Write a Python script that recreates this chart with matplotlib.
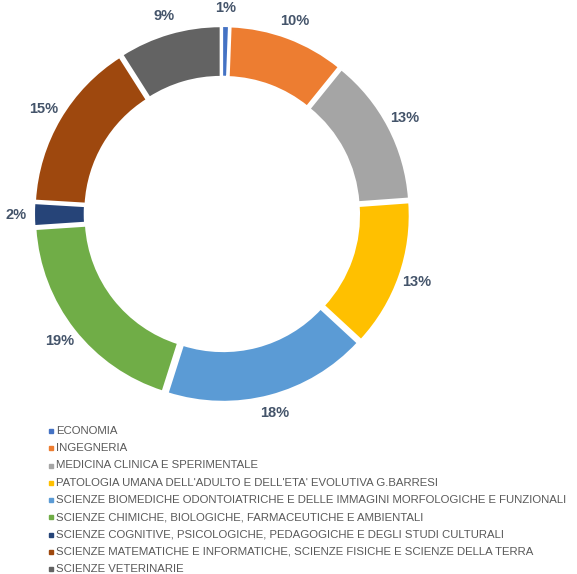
import matplotlib.pyplot as plt
from matplotlib.lines import Line2D

plt.rcParams['font.family'] = ['Liberation Sans', 'DejaVu Sans']

categories = [
    "ECONOMIA",
    "INGEGNERIA",
    "MEDICINA CLINICA E SPERIMENTALE",
    "PATOLOGIA UMANA DELL'ADULTO E DELL'ETA' EVOLUTIVA G.BARRESI",
    "SCIENZE BIOMEDICHE ODONTOIATRICHE E DELLE IMMAGINI MORFOLOGICHE E FUNZIONALI",
    "SCIENZE CHIMICHE, BIOLOGICHE, FARMACEUTICHE E AMBIENTALI",
    "SCIENZE COGNITIVE, PSICOLOGICHE, PEDAGOGICHE E DEGLI STUDI CULTURALI",
    "SCIENZE MATEMATICHE E INFORMATICHE, SCIENZE FISICHE E SCIENZE DELLA TERRA",
    "SCIENZE VETERINARIE",
]
values = [0.6, 10.2, 13, 13, 18, 19, 2, 15, 9]
pct_labels = ["1%", "10%", "13%", "13%", "18%", "19%", "2%", "15%", "9%"]
colors = ["#4472C4", "#ED7D31", "#A5A5A5", "#FFC000", "#5B9BD5",
          "#70AD47", "#264478", "#9E480E", "#636363"]

W, H = 577, 574
fig = plt.figure(figsize=(W / 100, H / 100), dpi=100)
cx, cy, r = 222, 214, 188
ax = fig.add_axes([(cx - r) / W, (H - cy - r) / H, 2 * r / W, 2 * r / H])

wedges, texts = ax.pie(values, labels=pct_labels, colors=colors, startangle=90,
                       counterclock=False, explode=[0.025] * len(values),
                       radius=0.975, labeldistance=1.1,
                       wedgeprops=dict(width=0.27, edgecolor='white', linewidth=1.5),
                       textprops=dict(color='#44546A', fontsize=10.5, fontweight='bold'))
for t in texts:
    t.set_horizontalalignment('center')
    t.set_verticalalignment('center')
ax.set_xlim(-1, 1)
ax.set_ylim(-1, 1)
ax.set_aspect('auto')

# legend rows, laid out by hand for even spacing
row0, pitch = 431, 17.25
for i, (name, c) in enumerate(zip(categories, colors)):
    y = 1 - (row0 + i * pitch) / H
    fig.add_artist(Line2D([51 / W], [y], marker='s', linestyle='none',
                          color=c, markersize=2.5, transform=fig.transFigure))
    fig.text(56 / W, y, name, fontsize=8.2, color='#595959', va='center', ha='left')

fig.savefig('out.png', dpi=100)
